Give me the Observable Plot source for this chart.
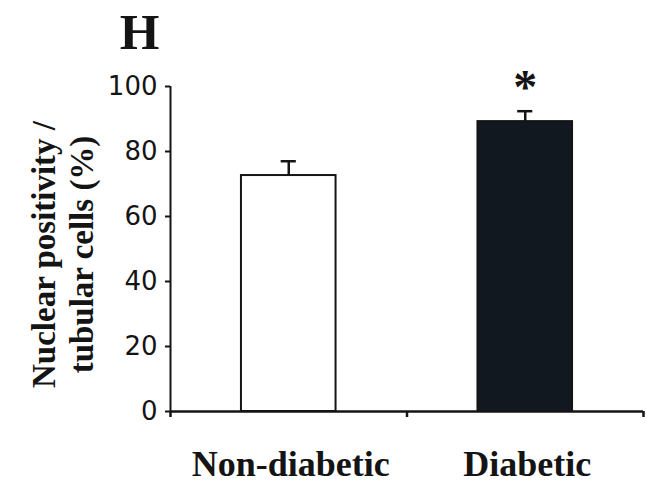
<!DOCTYPE html>
<html><head><meta charset="utf-8">
<script src="https://cdn.jsdelivr.net/npm/d3@7"></script>
<script src="https://cdn.jsdelivr.net/npm/@observablehq/plot@0.6"></script>
<style>body{margin:0;background:#fff}</style>
</head><body><div id="chart"></div>
<script>
const categories = ["Non-diabetic", "Diabetic"];
const means = [72.6, 89.2];
const errors = [4.4, 3.2];
const fills = ["white", "#111820"];
const annotations = ["", "*"];
const yTicks = [0, 20, 40, 60, 80, 100];
const panelLabel = "H";
const yLabel = "Nuclear positivity /\ntubular cells (%)";

const data = categories.map((c, i) => ({category: c, pos: i, mean: means[i], err: errors[i], fill: fills[i], note: annotations[i]}));

const serif = "'Liberation Serif', 'Times New Roman', serif";
const ink = "#141414";

const plot = Plot.plot({
  width: 646, height: 483,
  marginLeft: 170, marginRight: 3, marginTop: 86, marginBottom: 72,
  style: {fontFamily: "'DejaVu Sans', sans-serif", fontSize: "26px", color: ink, background: "white"},
  x: {domain: [0, categories.length], axis: null},
  y: {domain: [0, 100], axis: null},
  color: {type: "identity"},
  marks: [
    Plot.rectY(data, {x1: d => d.pos + 0.3, x2: d => d.pos + 0.7, y: "mean", fill: "fill", stroke: ink, strokeWidth: 2}),
    Plot.ruleX(data, {x: d => d.pos + 0.5, y1: "mean", y2: d => d.mean + d.err, stroke: ink, strokeWidth: 2.5}),
    Plot.ruleY(data, {y: d => d.mean + d.err, x1: d => d.pos + 0.5 - 0.032, x2: d => d.pos + 0.5 + 0.032, stroke: ink, strokeWidth: 2.5}),
    Plot.ruleX([0], {stroke: ink, strokeWidth: 2}),
    Plot.ruleY([0], {stroke: ink, strokeWidth: 2.5}),
    Plot.axisY({ticks: yTicks, tickSize: 5, tickPadding: 8, label: null, stroke: ink, strokeWidth: 2, fontSize: 26}),
    Plot.axisX({ticks: d3.range(0, categories.length + 1), tickSize: 6, tickFormat: () => "", label: null, stroke: ink, strokeWidth: 2.5}),
    Plot.text(data, {x: d => d.pos + 0.5, text: "category", frameAnchor: "bottom", dy: 64, dx: 2, lineAnchor: "bottom", fontFamily: serif, fontWeight: "bold", fontSize: 36, fill: ink}),
    Plot.text([yLabel], {text: d => d, frameAnchor: "left", textAnchor: "middle", lineAnchor: "middle", rotate: -90, dx: -109, dy: 5.5, fontFamily: serif, fontWeight: "bold", fontSize: 33, lineHeight: 1.18, fill: ink}),
    Plot.text([panelLabel], {text: d => d, frameAnchor: "top-left", textAnchor: "middle", dx: -31, dy: -38, lineAnchor: "bottom", fontFamily: serif, fontWeight: "bold", fontSize: 51, fill: ink}),
    Plot.text(data, {x: d => d.pos + 0.5, y: d => d.mean + d.err, text: "note", dy: -24, fontFamily: serif, fontWeight: "bold", fontSize: 48, fill: ink})
  ]
});
document.getElementById("chart").appendChild(plot);
</script>
</body></html>
